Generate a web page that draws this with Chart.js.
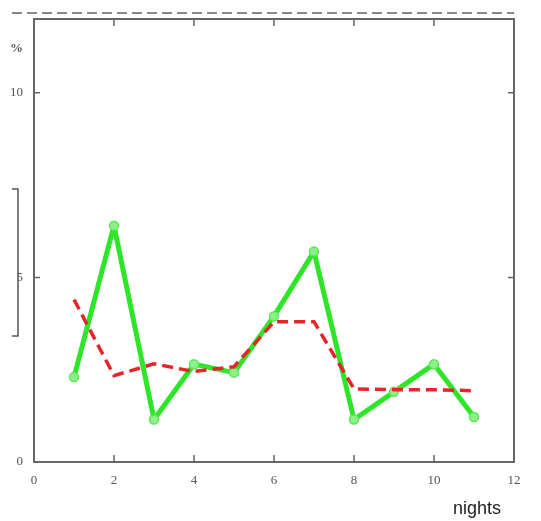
<!DOCTYPE html>
<html>
<head>
<meta charset="utf-8">
<script src="https://cdn.jsdelivr.net/npm/chart.js@4.4.0/dist/chart.umd.min.js"></script>
<style>
  html, body { margin: 0; padding: 0; background: #fff; }
  #wrap { width: 541px; height: 521px; }
</style>
</head>
<body>
<div id="wrap"><canvas id="c" width="541" height="521"></canvas></div>
<script>
// data
const nights = [1, 2, 3, 4, 5, 6, 7, 8, 9, 10, 11];
const greenVals = [2.3, 6.4, 1.15, 2.65, 2.42, 3.95, 5.7, 1.15, 1.9, 2.65, 1.22];
const redVals = [4.4, 2.34, 2.66, 2.45, 2.58, 3.8, 3.8, 1.98, 1.96, 1.96, 1.93];
const xTicks = [0, 2, 4, 6, 8, 10, 12];
const yTicks = [0, 5, 10];

const pts = (vals) => nights.map((n, i) => ({ x: n, y: vals[i] }));

// frame, inward ticks and the loose marks around the plot
const decor = {
  id: 'decor',
  afterDatasetsDraw(chart) {
    const { ctx, chartArea: a, scales } = chart;
    ctx.save();
    ctx.strokeStyle = '#666';
    ctx.lineWidth = 2;
    ctx.strokeRect(a.left, a.top, a.right - a.left, a.bottom - a.top);

    ctx.lineWidth = 1.5;
    xTicks.forEach(v => {
      if (v === 0 || v === 12) return;
      const px = scales.x.getPixelForValue(v);
      ctx.beginPath();
      ctx.moveTo(px, a.bottom); ctx.lineTo(px, a.bottom - 7);
      ctx.moveTo(px, a.top); ctx.lineTo(px, a.top + 7);
      ctx.stroke();
    });
    yTicks.forEach(v => {
      if (v === 0) return;
      const py = scales.y.getPixelForValue(v);
      ctx.beginPath();
      ctx.moveTo(a.left, py); ctx.lineTo(a.left + 6, py);
      ctx.moveTo(a.right, py); ctx.lineTo(a.right - 6, py);
      ctx.stroke();
    });

    // dashed line above the plot
    ctx.strokeStyle = '#888';
    ctx.lineWidth = 2;
    ctx.setLineDash([10, 5]);
    ctx.beginPath();
    ctx.moveTo(12, 13); ctx.lineTo(a.right, 13);
    ctx.stroke();
    ctx.setLineDash([]);

    // bracket at the left
    ctx.strokeStyle = '#555';
    ctx.lineWidth = 1.5;
    ctx.beginPath();
    ctx.moveTo(12, 189); ctx.lineTo(18, 189); ctx.lineTo(18, 336); ctx.lineTo(12, 336);
    ctx.stroke();

    ctx.fillStyle = '#555';
    ctx.font = 'bold 13px "Liberation Serif"';
    ctx.textAlign = 'left';
    ctx.textBaseline = 'middle';
    ctx.fillText('%', 10, 49);

    ctx.fillStyle = '#222';
    ctx.font = '18px "Liberation Sans"';
    ctx.textAlign = 'right';
    ctx.fillText('nights', 501, 509);
    ctx.restore();
  }
};

new Chart(document.getElementById('c'), {
  type: 'line',
  data: {
    datasets: [
      {
        data: pts(redVals),
        borderColor: '#e8242a',
        borderWidth: 3.5,
        borderDash: [11, 6],
        pointRadius: 0,
        tension: 0
      },
      {
        data: pts(greenVals),
        borderColor: '#2ee628',
        borderWidth: 5,
        borderJoinStyle: 'round',
        borderCapStyle: 'round',
        pointRadius: 4.5,
        pointBackgroundColor: '#8ef08a',
        pointBorderColor: '#5de858',
        pointBorderWidth: 1.5,
        tension: 0
      }
    ]
  },
  options: {
    responsive: false,
    animation: false,
    layout: { padding: { top: 19, right: 27, left: 0, bottom: 0 } },
    plugins: { legend: { display: false }, tooltip: { enabled: false } },
    scales: {
      x: {
        type: 'linear',
        min: 0,
        max: 12,
        afterBuildTicks: s => { s.ticks = xTicks.map(v => ({ value: v })); },
        afterFit: s => { s.height = 59; },
        grid: { display: false },
        border: { display: false },
        ticks: {
          padding: 3,
          color: '#555',
          font: { family: 'Liberation Serif', size: 13 },
          maxRotation: 0,
          autoSkip: false
        }
      },
      y: {
        min: 0,
        max: 12,
        afterBuildTicks: s => { s.ticks = yTicks.map(v => ({ value: v })); },
        afterFit: s => { s.width = 34; },
        grid: { display: false },
        border: { display: false },
        ticks: {
          padding: 3,
          color: '#555',
          font: { family: 'Liberation Serif', size: 13 }
        }
      }
    }
  },
  plugins: [decor]
});
</script>
</body>
</html>
